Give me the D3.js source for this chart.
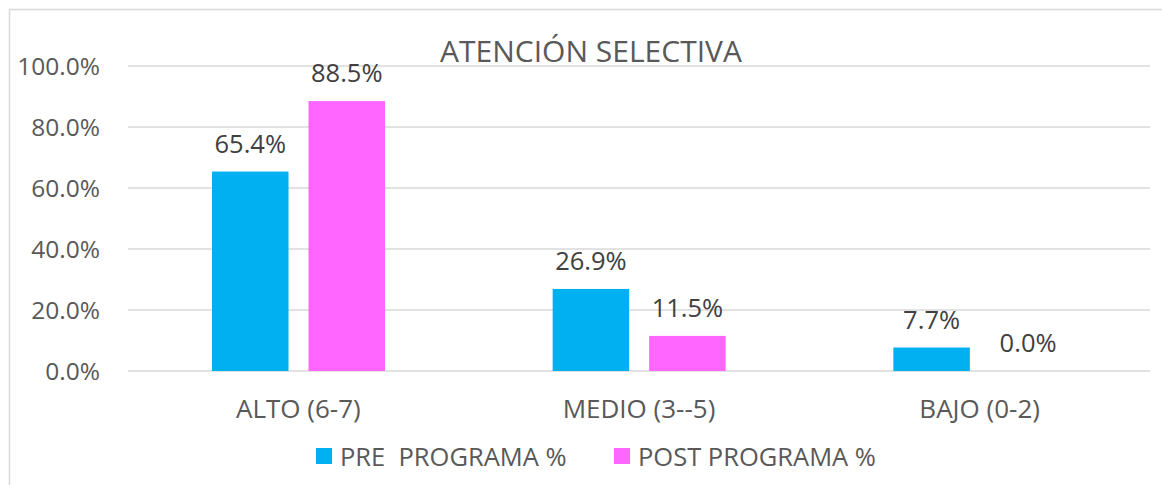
<!DOCTYPE html>
<html lang="es">
<head>
<meta charset="UTF-8">
<title>Atención selectiva</title>
<script src="https://d3js.org/d3.v7.min.js"></script>
<style>
  body { margin: 0; background: #fff; font-family: "Open Sans", Arial, sans-serif; }
  svg text { fill: #595959; }
  .grid line { stroke: #d9d9d9; stroke-width: 1.5; }
  .lbl { fill: #404040; }
</style>
</head>
<body>
<svg width="1162" height="485"></svg>
<script>
// datos
const categorias = ["ALTO (6-7)", "MEDIO (3--5)", "BAJO (0-2)"];
const series = ["PRE  PROGRAMA %", "POST PROGRAMA %"];
const pre = [65.4, 26.9, 7.7];
const post = [88.5, 11.5, 0.0];
const ticks = [0, 20, 40, 60, 80, 100];
const colores = ["#00b0f0", "#ff66ff"];

const svg = d3.select("svg");

// marco del gráfico
svg.append("rect")
  .attr("x", 9.5).attr("y", 9.5)
  .attr("width", 1170).attr("height", 500)
  .attr("fill", "none").attr("stroke", "#d9d9d9").attr("stroke-width", 1.5);

const plotL = 128, plotR = 1150, plotT = 66, plotB = 371;

const x = d3.scaleBand().domain(categorias).range([plotL, plotR]);
const xs = d3.scaleBand().domain(series).range([84, 257]).paddingInner(0.207);
const y = d3.scaleLinear().domain([0, 100]).range([plotB, plotT]);

// líneas de cuadrícula
svg.append("g").attr("class", "grid")
  .selectAll("line").data(ticks).join("line")
  .attr("x1", plotL).attr("x2", plotR)
  .attr("y1", d => y(d)).attr("y2", d => y(d));

// etiquetas eje Y
svg.append("g").selectAll("text").data(ticks).join("text")
  .attr("x", 100).attr("y", d => y(d) + 9)
  .attr("text-anchor", "end")
  .style("font-size", "24.5px")
  .text(d => d.toFixed(1) + "%");

// título
svg.append("text")
  .attr("x", 591).attr("y", 62)
  .attr("text-anchor", "middle")
  .style("font-size", "30px")
  .text("ATENCIÓN SELECTIVA");

const filas = categorias.map((c, i) => ({ cat: c, vals: [pre[i], post[i]] }));

const grupos = svg.append("g").selectAll("g").data(filas).join("g")
  .attr("transform", d => `translate(${x(d.cat)},0)`);

grupos.selectAll("rect")
  .data(d => d.vals.map((v, j) => ({ serie: series[j], v, j })))
  .join("rect")
  .attr("x", d => xs(d.serie))
  .attr("y", d => y(d.v))
  .attr("width", xs.bandwidth())
  .attr("height", d => y(0) - y(d.v))
  .attr("fill", d => colores[d.j]);

grupos.selectAll("text.lbl")
  .data(d => d.vals.map((v, j) => ({ serie: series[j], v })))
  .join("text")
  .attr("class", "lbl")
  .attr("x", d => xs(d.serie) + xs.bandwidth() / 2)
  .attr("y", d => y(d.v) - 19)
  .attr("text-anchor", "middle")
  .style("font-size", "25.5px")
  .text(d => d.v.toFixed(1) + "%");

// etiquetas de categoría
svg.append("g").selectAll("text").data(categorias).join("text")
  .attr("x", d => x(d) + x.bandwidth() / 2)
  .attr("y", 418)
  .attr("text-anchor", "middle")
  .style("font-size", "26px")
  .text(d => d);

// leyenda
const leyX = [316, 614];
const ley = svg.append("g").selectAll("g").data(series).join("g")
  .attr("transform", (d, i) => `translate(${leyX[i]},448)`);
ley.append("rect").attr("width", 16).attr("height", 16)
  .attr("fill", (d, i) => colores[i]);
ley.append("text").attr("x", 24).attr("y", 18)
  .style("font-size", "25.5px")
  .style("white-space", "pre")
  .text(d => d);
</script>
</body>
</html>
